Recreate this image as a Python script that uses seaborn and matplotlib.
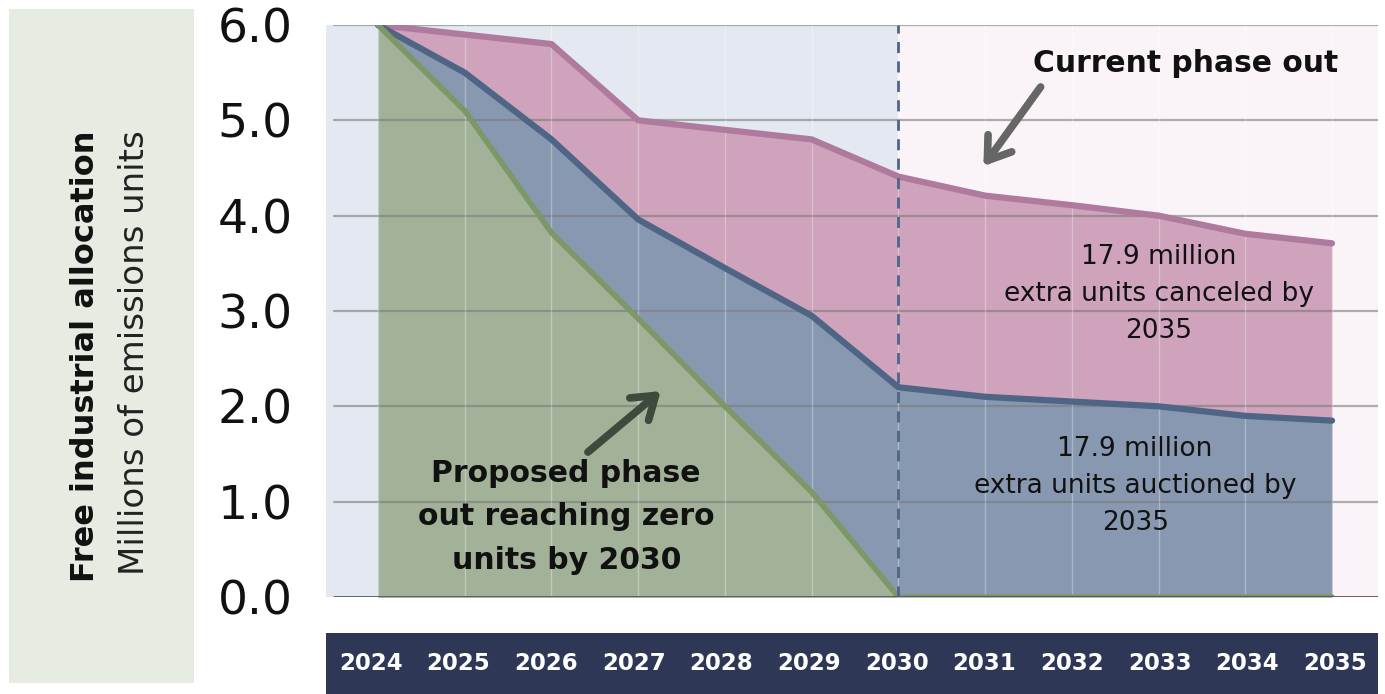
import matplotlib
matplotlib.use("Agg")
import matplotlib.pyplot as plt
import seaborn as sns
import pandas as pd
from matplotlib.patches import Rectangle

# ---- data ----
years = [2024, 2025, 2026, 2027, 2028, 2029, 2030, 2031, 2032, 2033, 2034, 2035]
current_phase_out = [6.0, 5.9, 5.8, 5.0, 4.9, 4.8, 4.41, 4.21, 4.11, 4.0, 3.81, 3.71]
auctioned_path = [6.0, 5.5, 4.8, 3.96, 3.45, 2.95, 2.2, 2.1, 2.05, 2.0, 1.9, 1.85]
proposed_phase_out = [6.0, 5.1, 3.82, 2.92, 2.0, 1.1, 0.0, 0.0, 0.0, 0.0, 0.0, 0.0]
y_ticks = [0, 1, 2, 3, 4, 5, 6]
y_tick_labels = ["0.0", "1.0", "2.0", "3.0", "4.0", "5.0", "6.0"]

df = pd.DataFrame({"year": years, "current": current_phase_out,
                   "auction": auctioned_path, "proposed": proposed_phase_out})

sns.set_theme(style="white")
plt.rcParams["font.family"] = ["DejaVu Sans"]

W, H = 1385, 694
fig = plt.figure(figsize=(W / 100, H / 100), dpi=100)
fig.patch.set_facecolor("white")

# left label panel
fig.patches.append(Rectangle((9 / W, (H - 683) / H), 185 / W, 674 / H,
                             transform=fig.transFigure, facecolor="#e6ece2",
                             edgecolor="none", zorder=0))
fig.text(86 / W, 1 - 356 / H, "Free industrial allocation", rotation=90,
         ha="center", va="center", fontsize=23, fontweight="bold", color="#111111")
fig.text(134 / W, 1 - 353 / H, "Millions of emissions units", rotation=90,
         ha="center", va="center", fontsize=24.5, color="#222222")

# main axes
x0, x1 = 2023.4, 2035.53
ax = fig.add_axes([326 / W, (H - 597) / H, (1378 - 326) / W, (597 - 25) / H])
ax.set_xlim(x0, x1)
ax.set_ylim(0, 6)
ax.axvspan(x0, 2030, color="#e4e9f1", zorder=0, lw=0)
ax.axvspan(2030, x1, color="#faf4f8", zorder=0, lw=0)

# fills
ax.fill_between(df["year"], 0, df["current"], color="#cea3bb", zorder=1, lw=0)
ax.fill_between(df["year"], 0, df["auction"], color="#8898b0", zorder=2, lw=0)
ax.fill_between(df["year"], 0, df["proposed"], color="#a2b298", zorder=3, lw=0)

# grid lines
for yv in y_ticks[1:]:
    ax.axhline(yv, xmin=(8 / 1052), color="#7a7a7a", lw=1.6, alpha=0.6, zorder=4)
for xv in years:
    ax.axvline(xv, color="white", lw=1.0, alpha=0.3, zorder=4)

# lines
sns.lineplot(data=df, x="year", y="current", color="#b07a9e", lw=4.5, ax=ax, zorder=6)
sns.lineplot(data=df, x="year", y="auction", color="#4e6586", lw=4.5, ax=ax, zorder=6)
sns.lineplot(data=df, x="year", y="proposed", color="#7d9766", lw=4.0, ax=ax, zorder=7)

ax.axhline(0, xmin=(8 / 1052), color="#555555", lw=2, zorder=8)
ax.axvline(2030, color="#4e6586", lw=2, ls=(0, (4, 3)), zorder=8)

for s in ax.spines.values():
    s.set_visible(False)
ax.set_xlabel("")
ax.set_ylabel("")
ax.set_xticks([])
ax.set_yticks(y_ticks)
ax.set_yticklabels(y_tick_labels, fontsize=34, color="#111111")
ax.tick_params(axis="y", length=0, pad=24)

# annotations
arrow_kw = dict(arrowstyle="->,head_length=1.1,head_width=0.75", lw=5.5,
                shrinkA=0, shrinkB=0, mutation_scale=14,
                capstyle="round", joinstyle="round")
ax.text(2033.31, 5.60, "Current phase out", ha="center", va="center",
        fontsize=21.4, fontweight="bold", color="#111111", zorder=10)
ax.annotate("", xy=(2030.98, 4.52), xytext=(2031.64, 5.35),
            arrowprops=dict(color="#666666", **arrow_kw), zorder=10)
ax.text(2026.17, 0.84, "Proposed phase\nout reaching zero\nunits by 2030", ha="center",
        va="center", fontsize=21.5, fontweight="bold", color="#111111",
        linespacing=1.62, zorder=10)
ax.annotate("", xy=(2027.26, 2.16), xytext=(2026.42, 1.52),
            arrowprops=dict(color="#3d4a3c", **arrow_kw), zorder=10)
ax.text(2033.0, 3.18, "17.9 million\nextra units canceled by\n2035", ha="center",
        va="center", fontsize=19, color="#111111", linespacing=1.55, zorder=10)
ax.text(2032.73, 1.166, "17.9 million\nextra units auctioned by\n2035", ha="center",
        va="center", fontsize=19, color="#111111", linespacing=1.55, zorder=10)

# year band
axb = fig.add_axes([326 / W, 0, (1378 - 326) / W, 61 / H])
axb.set_facecolor("#2e3756")
axb.set_xlim(2023.49, 2035.49)
axb.set_ylim(0, 1)
for s in axb.spines.values():
    s.set_visible(False)
axb.set_xticks([])
axb.set_yticks([])
for yr in years:
    axb.text(yr, 0.5, str(yr), ha="center", va="center", color="white",
             fontsize=16.5, fontweight="bold")

fig.savefig("out.png", dpi=100, facecolor="white")
